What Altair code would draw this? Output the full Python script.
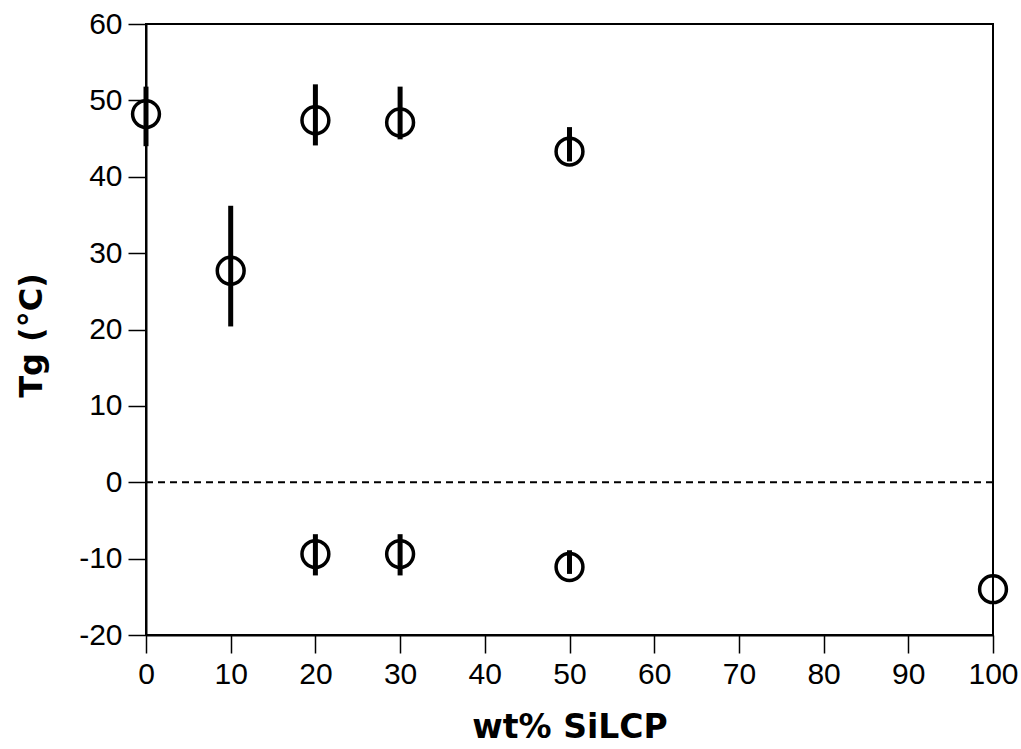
import altair as alt
import pandas as pd

wt = [0, 10, 20, 30, 50, 20, 30, 50, 100]
tg = [48.2, 27.7, 47.4, 47.1, 43.3, -9.4, -9.4, -11.1, -14.0]
tg_hi = [51.8, 36.2, 52.1, 51.8, 46.5, -6.8, -6.8, -8.9, -14.0]
tg_lo = [44.0, 20.4, 44.1, 44.9, 42.0, -12.2, -12.2, -12.0, -14.0]

df = pd.DataFrame({"wt": wt, "tg": tg, "hi": tg_hi, "lo": tg_lo})

FONT = "Liberation Sans"
TFONT = "DejaVu Sans"

xs = alt.Scale(domain=[0, 100], nice=False)
ys = alt.Scale(domain=[-20, 60], nice=False)

xax = alt.Axis(values=list(range(0, 101, 10)), title="wt% SiLCP", grid=False,
               tickSize=18, tickWidth=1.5, labelPadding=6, labelFont=FONT, labelFontSize=30,
               labelFlush=False, labelExpr="'' + datum.value",
               labelColor="black", tickColor="black", domainColor="black", domainWidth=2,
               titleFont=TFONT, titleFontSize=33, titleFontWeight="bold",
               titleColor="black", titleX=423.5, titleY=102, titleBaseline="alphabetic",
               titleAnchor="middle", titleAlign="center")
yax = alt.Axis(values=list(range(-20, 61, 10)), title="Tg (°C)", grid=False,
               tickSize=18, tickWidth=1.5, labelPadding=6, labelFont=FONT, labelFontSize=30,
               labelFlush=False, labelExpr="'' + datum.value",
               labelColor="black", tickColor="black", domainColor="black", domainWidth=2,
               titleFont=TFONT, titleFontSize=32, titleFontWeight="bold",
               titleColor="black", titleX=-105, titleY=311, titleAngle=270,
               titleBaseline="alphabetic", titleAlign="center")

base = alt.Chart(df)

zero = alt.Chart(pd.DataFrame({"z": [0]})).mark_rule(
    color="black", strokeWidth=2, strokeDash=[7, 5]
).encode(y=alt.Y("z:Q", scale=ys, axis=yax))

bars = base.mark_rule(color="black", strokeWidth=5).encode(
    x=alt.X("wt:Q", scale=xs, axis=xax),
    y=alt.Y("lo:Q", scale=ys, axis=yax),
    y2="hi:Q",
)

pts = base.mark_point(shape="circle", size=720, filled=False, color="black",
                      strokeWidth=3.5, opacity=1).encode(
    x=alt.X("wt:Q", scale=xs, axis=xax),
    y=alt.Y("tg:Q", scale=ys, axis=yax),
)

chart = alt.layer(zero, bars, pts).properties(
    width=847, height=611,
    autosize=alt.AutoSizeParams(type="none"),
    padding={"left": 146, "top": 24, "right": 28, "bottom": 114},
    background="white",
).configure_view(stroke="black", strokeWidth=2)

chart.save("out.html", embed_options={"renderer": "svg", "actions": False})
